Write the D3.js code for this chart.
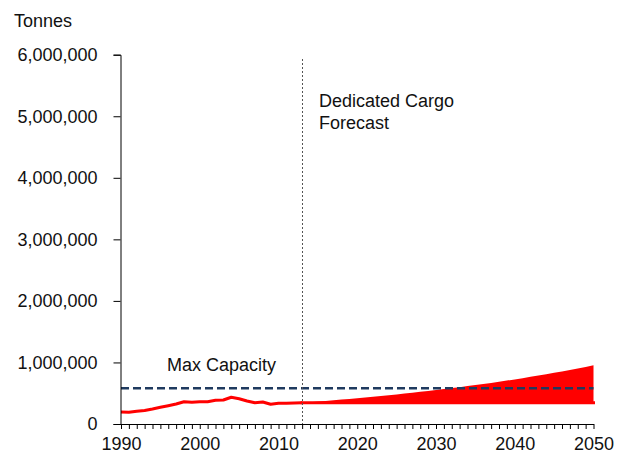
<!DOCTYPE html>
<html>
<head>
<meta charset="utf-8">
<script src="https://cdn.jsdelivr.net/npm/d3@7"></script>
<style>
  html, body { margin: 0; padding: 0; background: #fff; }
  svg text { font-family: "Liberation Sans", Arial, Helvetica, sans-serif; fill: #111; }
</style>
</head>
<body>
<svg id="chart" width="623" height="457"></svg>
<script>
const histYears = [1990,1991,1992,1993,1994,1995,1996,1997,1998,1999,2000,2001,2002,2003,2004,2005,2006,2007,2008,2009,2010,2011,2012,2013];
const histValues = [195000,190000,208000,220000,244000,271000,297000,325000,362000,353000,362000,362000,385000,390000,434000,411000,374000,346000,357000,320000,336000,336000,341000,346000];

const forecastYears = [2013,2014,2015,2016,2017,2018,2019,2020,2021,2022,2023,2024,2025,2026,2027,2028,2029,2030,2031,2032,2033,2034,2035,2036,2037,2038,2039,2040,2041,2042,2043,2044,2045,2046,2047,2048,2049,2050];
const forecastHigh = [346000,355000,365000,375000,386000,397000,408000,419000,431000,443000,455000,468000,481000,494000,508000,522000,537000,552000,567000,583000,599000,616000,633000,650000,668000,687000,706000,725000,745000,766000,787000,809000,832000,855000,878000,903000,928000,954000];
const forecastLow = [346000,346000,346000,346000,346000,346000,346000,346000,346000,346000,346000,346000,346000,346000,346000,346000,346000,346000,346000,346000,346000,346000,346000,346000,346000,346000,346000,346000,346000,346000,346000,346000,346000,346000,346000,346000,346000,346000];

const maxCapacity = 580000;
const forecastStartYear = 2013;
const yTicks = [0,1000000,2000000,3000000,4000000,5000000,6000000];
const xLabelYears = [1990,2000,2010,2020,2030,2040,2050];

const svg = d3.select("#chart");
const x = d3.scaleLinear().domain([1990, 2050]).range([121, 593.5]);
const y = d3.scaleLinear().domain([0, 6000000]).range([424, 54.7]);

// forecast band
const fc = forecastYears.map((yr, i) => ({yr, lo: forecastLow[i], hi: forecastHigh[i]}));
svg.append("path")
  .datum(fc)
  .attr("fill", "#ff0000")
  .attr("d", d3.area().x(d => x(d.yr)).y0(d => y(d.lo)).y1(d => y(d.hi)));
svg.append("path")
  .datum(fc)
  .attr("fill", "none").attr("stroke", "#ff0000").attr("stroke-width", 3)
  .attr("stroke-linecap", "square")
  .attr("d", d3.line().x(d => x(d.yr)).y(d => y(d.lo)));

// historical line
const hist = histYears.map((yr, i) => ({yr, v: histValues[i]}));
svg.append("path")
  .datum(hist)
  .attr("fill", "none").attr("stroke", "#ff0000").attr("stroke-width", 3)
  .attr("stroke-linejoin", "round")
  .attr("d", d3.line().x(d => x(d.yr)).y(d => y(d.v)));

// max capacity dashed line
svg.append("line")
  .attr("x1", x(1990)).attr("x2", x(2050))
  .attr("y1", y(maxCapacity)).attr("y2", y(maxCapacity))
  .attr("stroke", "#1f3a5f").attr("stroke-width", 2.5)
  .attr("stroke-dasharray", "8,4");

// forecast start dotted line
svg.append("line")
  .attr("x1", Math.round(x(forecastStartYear)) + 0.5).attr("x2", Math.round(x(forecastStartYear)) + 0.5)
  .attr("y1", 59).attr("y2", y(0))
  .attr("stroke", "#555").attr("stroke-width", 1)
  .attr("stroke-dasharray", "2,2");

// y axis
const yAxis = d3.axisLeft(y).tickValues(yTicks).tickSize(7).tickPadding(16)
  .tickFormat(d3.format(","));
const gy = svg.append("g").attr("transform", "translate(120.5,0)").call(yAxis);
gy.select(".domain").attr("stroke", "#000");
gy.selectAll(".tick line").attr("stroke", "#000");
gy.selectAll(".tick text").attr("font-size", 18).attr("fill", "#111");

// x axis
const xAxis = d3.axisBottom(x).tickValues(d3.range(1990, 2051, 1)).tickSize(5).tickSizeOuter(0)
  .tickFormat(d => xLabelYears.includes(d) ? String(d) : "").tickPadding(8);
const gx = svg.append("g").attr("transform", "translate(0,424)").call(xAxis);
gx.select(".domain").attr("stroke", "#000");
gx.selectAll(".tick line").attr("stroke", "#000");
gx.selectAll(".tick text").attr("font-size", 18).attr("fill", "#111");
svg.selectAll(".tick text").style("font-family", "'Liberation Sans', Arial, Helvetica, sans-serif");

// labels
svg.append("text").attr("x", 14).attr("y", 27).attr("font-size", 18).text("Tonnes");
svg.append("text").attr("x", 319).attr("y", 107).attr("font-size", 18).text("Dedicated Cargo");
svg.append("text").attr("x", 319).attr("y", 129).attr("font-size", 18).text("Forecast");
svg.append("text").attr("x", 167).attr("y", 371).attr("font-size", 18).text("Max Capacity");
</script>
</body>
</html>
